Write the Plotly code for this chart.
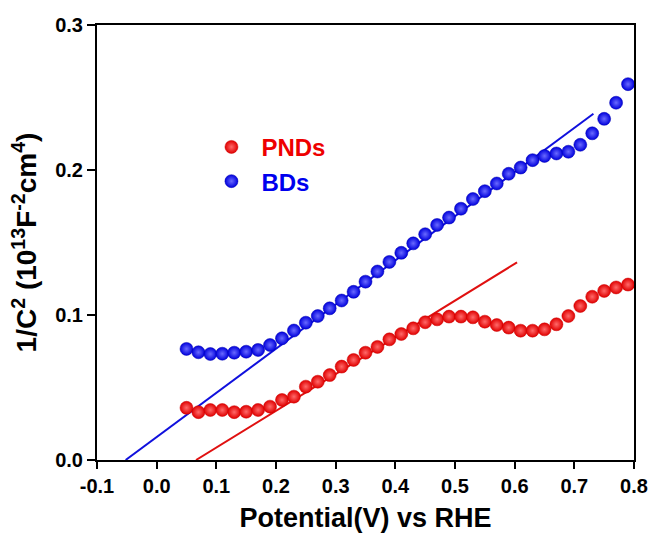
import plotly.graph_objects as go

potential = [0.05, 0.07, 0.09, 0.11, 0.13, 0.15, 0.17, 0.19, 0.21, 0.23,
             0.25, 0.27, 0.29, 0.31, 0.33, 0.35, 0.37, 0.39, 0.41, 0.43,
             0.45, 0.47, 0.49, 0.51, 0.53, 0.55, 0.57, 0.59, 0.61, 0.63,
             0.65, 0.67, 0.69, 0.71, 0.73, 0.75, 0.77, 0.79]

pnds = [0.036, 0.033, 0.0345, 0.0345, 0.033, 0.0333, 0.0345, 0.0368, 0.0414, 0.0437,
        0.0506, 0.054, 0.0586, 0.0644, 0.069, 0.074, 0.078, 0.0832, 0.0869, 0.0908,
        0.095, 0.097, 0.0989, 0.0989, 0.0984, 0.0954, 0.0931, 0.0913, 0.0892, 0.0892,
        0.0901, 0.0936, 0.0993, 0.1062, 0.1126, 0.1166, 0.119, 0.121]

bds = [0.0766, 0.0743, 0.0731, 0.0733, 0.074, 0.0747, 0.0759, 0.0793, 0.0839, 0.0893,
       0.0947, 0.0993, 0.1046, 0.110, 0.116, 0.123, 0.130, 0.1366, 0.1429, 0.1494,
       0.1557, 0.1621, 0.1672, 0.1733, 0.180, 0.1854, 0.1907, 0.1974, 0.2017, 0.2068,
       0.2097, 0.2114, 0.2126, 0.2174, 0.2253, 0.2353, 0.2464, 0.2592]

pnds_fit_x = [0.066, 0.604]
pnds_fit_y = [0.0, 0.1363]
bds_fit_x = [-0.052, 0.732]
bds_fit_y = [0.0, 0.2388]

x_ticks = [-0.1, 0.0, 0.1, 0.2, 0.3, 0.4, 0.5, 0.6, 0.7, 0.8]
y_ticks = [0.0, 0.1, 0.2, 0.3]

FONT = "Arial, Liberation Sans, sans-serif"

fig = go.Figure()

fig.add_trace(go.Scatter(x=bds_fit_x, y=bds_fit_y, mode="lines",
                         line=dict(color="#1010dd", width=2), showlegend=False))
fig.add_trace(go.Scatter(x=pnds_fit_x, y=pnds_fit_y, mode="lines",
                         line=dict(color="#e01010", width=2), showlegend=False))

fig.add_trace(go.Scatter(
    x=potential, y=pnds, mode="markers", name="<span style='color:#ee0000'>PNDs</span>",
    legendgroup="a",
    marker=dict(size=13, color="#e00000",
                gradient=dict(type="radial", color="#ff6a6a"),
                line=dict(color="#cc0000", width=0.5))))
fig.add_trace(go.Scatter(
    x=potential, y=bds, mode="markers", name="<span style='color:#0000ee'>BDs</span>",
    legendgroup="b",
    marker=dict(size=13, color="#0000dd",
                gradient=dict(type="radial", color="#6a6aff"),
                line=dict(color="#0000b0", width=0.5))))

fig.update_layout(
    width=654, height=534,
    margin=dict(l=97, r=20, t=25, b=74),
    paper_bgcolor="white", plot_bgcolor="white",
    font=dict(family=FONT, color="black"),
    legend=dict(x=0.1945, y=0.7705, xanchor="left", yanchor="top",
                bgcolor="rgba(0,0,0,0)", itemwidth=50, tracegroupgap=0,
                font=dict(size=24, family=FONT, weight="bold")),
    xaxis=dict(range=[-0.1, 0.8], tickvals=x_ticks, automargin=False,
               ticktext=[f"{v:.1f}" for v in x_ticks],
               showgrid=False, zeroline=False,
               showline=True, linecolor="black", linewidth=2, mirror=True,
               ticks="outside", ticklen=7, tickwidth=2, tickcolor="black",
               tickfont=dict(size=20, family=FONT, weight="bold"),
               title=dict(text="<b>Potential(V) vs RHE</b>", font=dict(size=27, family=FONT),
                          standoff=12)),
    yaxis=dict(range=[0, 0.3], tickvals=y_ticks, automargin=False,
               ticktext=[f"{v:.1f}" for v in y_ticks],
               showgrid=False, zeroline=False,
               showline=True, linecolor="black", linewidth=2, mirror=True,
               ticks="outside", ticklen=8, tickwidth=2, tickcolor="black",
               tickfont=dict(size=20, family=FONT, weight="bold"),
               title=dict(text="<b>1/C<sup>2</sup> (10<sup>13</sup>F<sup>-2</sup>cm<sup>4</sup>)</b>",
                          font=dict(size=28, family=FONT), standoff=10)),
)

fig.write_html("out.html", config={"displayModeBar": False},
               post_script="document.body.style.margin='0';")
